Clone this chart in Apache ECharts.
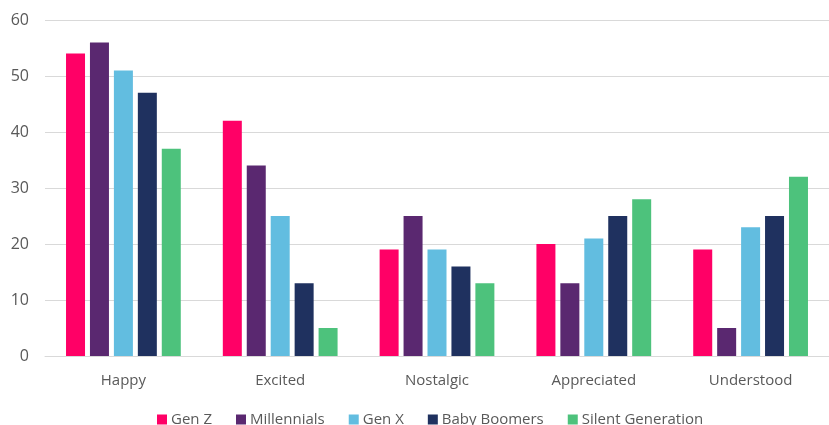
<!DOCTYPE html>
<html>
<head>
<meta charset="utf-8">
<script src="https://cdn.jsdelivr.net/npm/echarts@6/dist/echarts.min.js"></script>
<style>
  html, body { margin: 0; padding: 0; background: #fff; }
  #chart { width: 829px; height: 425px; }
</style>
</head>
<body>
<div id="chart"></div>
<script>
// Emotions felt, by generation (percent)
const categories = ['Happy', 'Excited', 'Nostalgic', 'Appreciated', 'Understood'];
const genZ        = [54, 42, 19, 20, 19];
const millennials = [56, 34, 25, 13, 5];
const genX        = [51, 25, 19, 21, 23];
const boomers     = [47, 13, 16, 25, 25];
const silent      = [37, 5, 13, 28, 32];
const yTicks      = [0, 10, 20, 30, 40, 50, 60];

const seriesDefs = [
  { name: 'Gen Z', data: genZ, color: '#FF0066' },
  { name: 'Millennials', data: millennials, color: '#5A2870' },
  { name: 'Gen X', data: genX, color: '#62BDE0' },
  { name: 'Baby Boomers', data: boomers, color: '#1F315F' },
  { name: 'Silent Generation', data: silent, color: '#4DC27C' }
];

const font = '"Open Sans", "Liberation Sans", sans-serif';
const chart = echarts.init(document.getElementById('chart'), null, { renderer: 'canvas' });

chart.setOption({
  animation: false,
  backgroundColor: '#ffffff',
  grid: { left: 45, right: 0, top: 20, bottom: 69, containLabel: false },
  legend: {
    bottom: -7,
    left: 152,
    itemWidth: 10,
    itemHeight: 10,
    itemGap: 24,
    icon: 'rect',
    textStyle: { fontFamily: font, fontSize: 15, color: '#595959', padding: [0, 0, 0, -1] },
    data: seriesDefs.map(s => s.name)
  },
  xAxis: {
    type: 'category',
    data: categories,
    axisLine: { show: true, lineStyle: { color: '#d9d9d9', width: 1 } },
    axisTick: { show: false },
    axisLabel: { fontFamily: font, fontSize: 15, color: '#595959', margin: 17 }
  },
  yAxis: {
    type: 'value',
    min: yTicks[0],
    max: yTicks[yTicks.length - 1],
    interval: yTicks[1] - yTicks[0],
    axisLine: { show: false },
    axisTick: { show: false },
    splitLine: { lineStyle: { color: '#d9d9d9', width: 1 } },
    axisLabel: { fontFamily: font, fontSize: 16, color: '#595959', margin: 16 }
  },
  series: seriesDefs.map(s => ({
    name: s.name,
    type: 'bar',
    data: s.data,
    barWidth: 19,
    barGap: '26%',
    itemStyle: { color: s.color }
  }))
});
</script>
</body>
</html>
